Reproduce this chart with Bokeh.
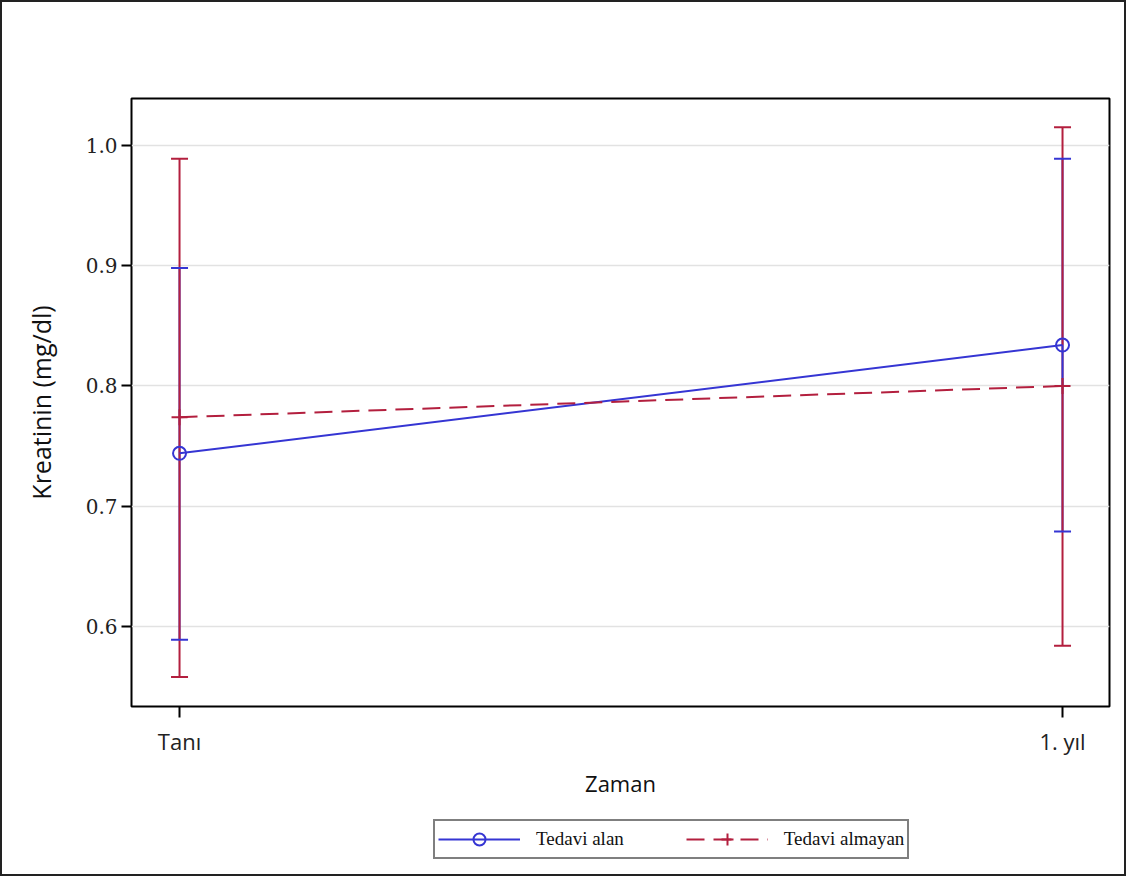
from bokeh.plotting import figure
from bokeh.layouts import column
from bokeh.models import (Range1d, FixedTicker, Legend, LegendItem)
from bokeh.embed import file_html
from bokeh.resources import INLINE

# ---- data ----
categories = ["Tanı", "1. yıl"]
series_names = ["Tedavi alan", "Tedavi almayan"]
alan_mean = [0.744, 0.834]
alan_lower = [0.589, 0.679]
alan_upper = [0.898, 0.989]
almayan_mean = [0.774, 0.800]
almayan_lower = [0.558, 0.584]
almayan_upper = [0.989, 1.015]
y_ticks = [0.6, 0.7, 0.8, 0.9, 1.0]

BLUE = "#3535d3"
RED = "#b31f3e"
LW = 2

xs = list(range(len(categories)))

p = figure(width=1122, height=808, output_backend="svg", toolbar_location=None,
           x_range=Range1d(-0.0544, 1.0532), y_range=Range1d(0.5335, 1.039),
           min_border_left=129, min_border_right=15, min_border_top=96, min_border_bottom=104)
p.background_fill_color = "white"
p.border_fill_color = "white"
p.outline_line_color = "black"
p.outline_line_width = 2

# grid
p.xgrid.visible = False
p.ygrid.grid_line_color = "#e2e2e2"
p.ygrid.grid_line_width = 1.3

# axes
p.xaxis.ticker = FixedTicker(ticks=xs)
p.xaxis.major_label_overrides = {i: c for i, c in enumerate(categories)}
p.yaxis.ticker = FixedTicker(ticks=y_ticks)
p.yaxis.major_label_overrides = {t: f"{t:.1f}" for t in y_ticks}
for ax in (p.xaxis[0], p.yaxis[0]):
    ax.axis_line_color = None
    ax.major_tick_line_color = "black"
    ax.major_tick_line_width = 2
    ax.major_tick_in = 0
    ax.minor_tick_line_color = None
    ax.major_label_text_color = "#222222"
    ax.axis_label_text_color = "#111111"
    ax.axis_label_text_font_style = "normal"

p.xaxis.major_tick_out = 11
p.xaxis.major_label_standoff = 8
p.xaxis.major_label_text_font = "Open Sans"
p.xaxis.major_label_text_font_size = "22px"
p.xaxis.axis_label = "Zaman"
p.xaxis.axis_label_text_font = "Open Sans"
p.xaxis.axis_label_text_font_size = "22px"
p.xaxis.axis_label_standoff = 9

p.yaxis.major_tick_out = 10
p.yaxis.major_label_standoff = 4
p.yaxis.major_label_text_font = "DejaVu Serif"
p.yaxis.major_label_text_font_size = "20px"
p.yaxis.axis_label = "Kreatinin (mg/dl)"
p.yaxis.axis_label_text_font = "Open Sans"
p.yaxis.axis_label_text_font_size = "25px"
p.yaxis.axis_label_standoff = 25

# error bars: upper halves then lower halves
p.segment(x0=xs, y0=alan_mean, x1=xs, y1=alan_upper, line_color=BLUE, line_width=LW)
p.segment(x0=xs, y0=almayan_mean, x1=xs, y1=almayan_upper, line_color=RED, line_width=LW)
p.segment(x0=xs, y0=alan_mean, x1=xs, y1=alan_lower, line_color=BLUE, line_width=LW)
p.segment(x0=xs, y0=almayan_mean, x1=xs, y1=almayan_lower, line_color=RED, line_width=LW)

# caps
p.scatter(x=xs + xs, y=alan_upper + alan_lower, marker="dash", size=17,
          line_color=BLUE, line_width=LW)
p.scatter(x=xs + xs, y=almayan_upper + almayan_lower, marker="dash", size=17,
          line_color=RED, line_width=LW)

# mean lines
p.line(x=xs, y=alan_mean, line_color=BLUE, line_width=LW)
p.line(x=xs, y=almayan_mean, line_color=RED, line_width=LW, line_dash="18 9")
p.scatter(x=xs, y=almayan_mean, marker="cross", size=16, line_color=RED, line_width=LW)
p.scatter(x=xs, y=alan_mean, marker="circle", size=13, line_color=BLUE,
          fill_color=None, line_width=2)

# ---- legend strip (its y-range keeps the key renderers out of view) ----
p2 = figure(width=1122, height=64, output_backend="svg", toolbar_location=None,
            x_range=Range1d(0, 1), y_range=Range1d(5, 6),
            min_border_left=0, min_border_right=0, min_border_top=0, min_border_bottom=0)
p2.axis.visible = False
p2.grid.visible = False
p2.outline_line_color = None
p2.background_fill_color = "white"
p2.border_fill_color = "white"

l_alan = p2.line(x=xs, y=alan_mean, line_color=BLUE, line_width=LW)
m_alan = p2.scatter(x=xs, y=alan_mean, marker="circle", size=13, line_color=BLUE,
                    fill_color=None, line_width=2)
l_almayan = p2.line(x=xs, y=almayan_mean, line_color=RED, line_width=LW, line_dash="18 9")
m_almayan = p2.scatter(x=xs, y=almayan_mean, marker="cross", size=16, line_color=RED,
                       line_width=LW)

legend = Legend(items=[LegendItem(label=series_names[0], renderers=[l_alan, m_alan]),
                       LegendItem(label=series_names[1], renderers=[l_almayan, m_almayan])],
                orientation="horizontal", location=(302, 15))
legend.label_text_font = "Liberation Serif"
legend.label_text_font_size = "19px"
legend.label_text_color = "#111111"
legend.glyph_width = 82
legend.glyph_height = 30
legend.label_standoff = 16
legend.spacing = 62
legend.padding = 3
legend.margin = 0
legend.border_line_color = "black"
legend.border_line_width = 2
legend.background_fill_color = "white"
legend.background_fill_alpha = 1.0
p2.add_layout(legend, "center")

layout = column(p, p2, spacing=0, styles={"border": "2px solid #222"})

open("out.html", "w").write(file_html(layout, INLINE))
